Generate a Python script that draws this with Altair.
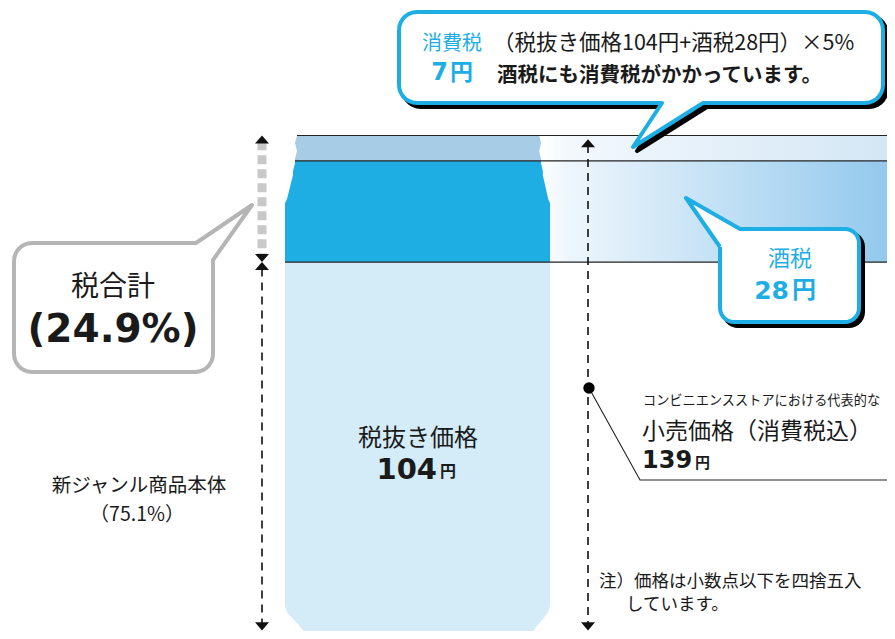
import altair as alt
import numpy as np
import pandas as pd

# ---------------- data ----------------
segments = ["税抜き価格", "酒税", "消費税"]
values = [104, 28, 7]
seg_colors = ["#d4ebf8", "#1faee4", "#a6cce6"]
band_segments = ["酒税", "消費税"]
total_price = 139
share_body = "（75.1%）"
share_tax = "(24.9%)"

# ---------------- layout helpers ----------------
W, H = 879, 623
PX = 3.615          # pixels per yen
BASE = 638.0        # page y of 0 yen


def yv(py):
    return (BASE - py) / PX


def pyv(v):
    return BASE - v * PX


XS = alt.Scale(domain=[8, 8 + W], nice=False, zero=False)
YS = alt.Scale(domain=[yv(8 + H), yv(8)], nice=False, zero=False)


def X(f="x"):
    return alt.X(f"{f}:Q", scale=XS, axis=None)


def Y(f="y"):
    return alt.Y(f"{f}:Q", scale=YS, axis=None)


cum = np.cumsum(values)
lows = cum - np.array(values)

# can silhouette (style only: indentation of the can's neck and foot)
CAN_L, CAN_R = 285, 550
prof_py = [130, 136, 139, 143, 147, 151, 155, 159, 163, 167, 171, 175, 179, 183, 187, 191, 195, 199, 203,
           606, 612, 618, 624, 630, 636, 645]
prof_off = [12, 12, 11, 10, 11, 12, 11, 10, 10, 9, 8, 8, 7, 6, 5, 4, 3, 2, 0,
            0, 2, 7, 13, 18, 20, 21]


def off(py):
    return float(np.interp(py, prof_py, prof_off))


rows = []
for s, lo, hi in zip(segments, lows, cum):
    top, bot = pyv(hi), pyv(lo)
    ys = np.unique(np.concatenate([np.arange(np.ceil(top), bot, 1.0), [top, bot]]))
    for py in ys:
        o = off(py)
        rows.append({"seg": s, "y": yv(py), "xl": CAN_L + o, "xr": CAN_R - 0.9 * o})
can_df = pd.DataFrame(rows)

can = alt.Chart(can_df).mark_area(orient="horizontal", clip=True).encode(
    y=Y("y"), x=X("xl"), x2="xr:Q",
    color=alt.Color("seg:N", scale=alt.Scale(domain=segments, range=seg_colors), legend=None),
)

# gradient bands to the right of the can
band_df = pd.DataFrame({"seg": segments, "lo": lows, "hi": cum})
band_df["x"] = 540
band_df["x2"] = 8 + W
grad_stops = {
    "酒税": [("#ffffff", 0), ("#eef6fc", 0.08), ("#93c9ed", 1)],
    "消費税": [("#ffffff", 0), ("#f3f8fd", 0.08), ("#d4e7f5", 1)],
}
bands = []
for s in band_segments:
    g = alt.LinearGradient(gradient="linear", x1=0, x2=1, y1=0, y2=0,
                           stops=[alt.GradientStop(color=c, offset=o) for c, o in grad_stops[s]])
    bands.append(
        alt.Chart(band_df[band_df.seg == s]).mark_rect(fill=g, clip=True).encode(
            x=X("x"), x2="x2:Q", y=Y("lo"), y2="hi:Q")
    )

# horizontal boundary lines
bound_df = pd.DataFrame({"y": [lows[1], cum[1], cum[2]]})
bound_df["x"] = [CAN_L + off(pyv(v)) for v in bound_df["y"]]
bound_df["x2"] = 8 + W
bounds = alt.Chart(bound_df).mark_rule(color="#222222", strokeWidth=1.2, clip=True).encode(
    x=X("x"), x2="x2:Q", y=Y("y"))

# dimension arrows (bottom tips kept just inside the visible frame)
LX, RX = 262, 588
BOT = 2.1
tax_lo, tax_hi = lows[1], cum[2]
gray_df = pd.DataFrame({"x": [LX], "y": [tax_hi - 1.6], "y2": [tax_lo + 1.8]})
gray_rule = alt.Chart(gray_df).mark_rule(color="#c8c8c8", strokeWidth=9, strokeDash=[9, 5]).encode(
    x=X("x"), y=Y("y"), y2="y2:Q")

dash_df = pd.DataFrame({"x": [LX, RX], "y": [lows[1] - 1.8, total_price - 2.6], "y2": [BOT + 1.5, BOT + 1.5]})
dash_rule = alt.Chart(dash_df).mark_rule(color="#111111", strokeWidth=1.6, strokeDash=[8, 6]).encode(
    x=X("x"), y=Y("y"), y2="y2:Q")

UP = "M0,0L1,1.15L-1,1.15Z"
DOWN = "M0,0L1,-1.15L-1,-1.15Z"
up_df = pd.DataFrame({"x": [LX, LX, RX], "y": [total_price, lows[1], total_price - 1.0]})
down_df = pd.DataFrame({"x": [LX, LX, RX], "y": [lows[1], BOT, BOT]})
up_heads = alt.Chart(up_df).mark_point(shape=UP, filled=True, color="#111111", size=196, opacity=1).encode(
    x=X("x"), y=Y("y"))
down_heads = alt.Chart(down_df).mark_point(shape=DOWN, filled=True, color="#111111", size=196, opacity=1).encode(
    x=X("x"), y=Y("y"))

# leader for the retail price
dot_df = pd.DataFrame({"x": [RX + 1], "y": [yv(388)]})
dot = alt.Chart(dot_df).mark_circle(color="#000000", size=130, opacity=1).encode(x=X("x"), y=Y("y"))
lead_df = pd.DataFrame({"x": [RX + 1, 640, 8 + W], "y": [yv(388), yv(480), yv(480)], "o": [0, 1, 2]})
leader = alt.Chart(lead_df).mark_line(color="#222222", strokeWidth=1.1).encode(
    x=X("x"), y=Y("y"), order="o:Q")


# speech bubbles
def arc(cx, cy, r, a0, a1, n=8):
    t = np.linspace(a0, a1, n)
    return list(zip(cx + r * np.cos(t), cy + r * np.sin(t)))


PI = np.pi


def poly_layer(points, fill, stroke, sw, dx=0, dy=0):
    pts = list(points) + [points[0]]
    df = pd.DataFrame({"x": [p[0] + dx for p in pts], "y": [yv(p[1] + dy) for p in pts],
                       "o": list(range(len(pts)))})
    return alt.Chart(df).mark_line(fill=fill, stroke=stroke, strokeWidth=sw, strokeJoin="round",
                                   fillOpacity=1).encode(x=X("x"), y=Y("y"), order="o:Q")


# top bubble (consumption tax)
x0, y0, x1, y1, r = 399, 12, 883, 103, 18
top_pts = (arc(x0 + r, y0 + r, r, PI, 1.5 * PI) + arc(x1 - r, y0 + r, r, 1.5 * PI, 2 * PI)
           + arc(x1 - r, y1 - r, r, 0, 0.5 * PI)
           + [(703, y1), (633, 147), (662, y1)]
           + arc(x0 + r, y1 - r, r, 0.5 * PI, PI))
# liquor-tax bubble
x0, y0, x1, y1, r = 720, 229, 859, 322, 14
liq_pts = ([(x0, 247), (686, 198), (740, y0)]
           + arc(x1 - r, y0 + r, r, 1.5 * PI, 2 * PI) + arc(x1 - r, y1 - r, r, 0, 0.5 * PI)
           + arc(x0 + r, y1 - r, r, 0.5 * PI, PI))
# total-tax bubble
x0, y0, x1, y1, r = 14, 243, 213, 372, 18
tax_pts = (arc(x0 + r, y0 + r, r, PI, 1.5 * PI) + [(196, y0), (252, 205), (x1, 260)]
           + arc(x1 - r, y1 - r, r, 0, 0.5 * PI) + arc(x0 + r, y1 - r, r, 0.5 * PI, PI))

BLUE = "#1eaee4"
bubbles = [
    poly_layer(top_pts, "#000000", "#000000", 4, 4, 4),
    poly_layer(top_pts, "#ffffff", BLUE, 4),
    poly_layer(liq_pts, "#000000", "#000000", 4, 4, 4),
    poly_layer(liq_pts, "#ffffff", BLUE, 4),
    poly_layer(tax_pts, "#ffffff", "#b5b5b5", 4),
]

# ---------------- texts ----------------
JP = "Noto Sans CJK JP"
NUM = "DejaVu Sans"


def text_layer(items, size, font=JP, weight="normal", color="#1a1a1a", align="center"):
    df = pd.DataFrame({"t": [i[0] for i in items], "x": [i[1] for i in items],
                       "y": [yv(i[2]) for i in items]})
    return alt.Chart(df).mark_text(fontSize=size, font=font, fontWeight=weight, color=color,
                                   align=align, baseline="middle").encode(x=X("x"), y=Y("y"), text="t:N")


texts = [
    text_layer([(segments[0], 418, 439)], 24),
    text_layer([(str(values[0]), 437, 470)], 29, NUM, "bold", align="right"),
    text_layer([("円", 440, 472)], 16, JP, "bold", align="left"),
    text_layer([("新ジャンル商品本体", 139, 486), (share_body, 137, 515)], 19.5),
    text_layer([("税合計", 113, 288)], 28),
    text_layer([(share_tax, 113, 330)], 39, NUM, "bold"),
    text_layer([(segments[2], 452, 44)], 20, color=BLUE),
    text_layer([(str(values[2]), 448, 73)], 24, NUM, "bold", color=BLUE, align="right"),
    text_layer([("円", 450, 73)], 23, JP, "bold", color=BLUE, align="left"),
    text_layer([(f"（税抜き価格{values[0]}円+酒税{values[1]}円）×5%", 493, 44)], 21.5, align="left"),
    text_layer([("酒税にも消費税がかかっています。", 497, 76)], 20.5, JP, "bold", align="left"),
    text_layer([(segments[1], 790, 259)], 22, color=BLUE),
    text_layer([(str(values[1]), 789, 291)], 25, NUM, "bold", color=BLUE, align="right"),
    text_layer([("円", 792, 291)], 24, JP, "bold", color=BLUE, align="left"),
    text_layer([("コンビニエンスストアにおける代表的な", 643, 401)], 13.2, align="left"),
    text_layer([("小売価格（消費税込）", 642, 432)], 23, align="left"),
    text_layer([(str(total_price), 642, 461)], 24, NUM, "bold", align="left"),
    text_layer([("円", 695, 463)], 15, JP, "bold", align="left"),
    text_layer([("注）価格は小数点以下を四捨五入", 599, 582), ("しています。", 626, 605)], 17.5, align="left"),
]

layers = bands + [can, bounds, gray_rule, dash_rule, up_heads, down_heads, leader, dot] + bubbles + texts

chart = alt.layer(*layers).properties(
    width=W, height=H, padding=0, autosize="none", background="#ffffff"
).configure_view(stroke=None)

chart.save("out.html", embed_options={"renderer": "svg", "actions": False})
